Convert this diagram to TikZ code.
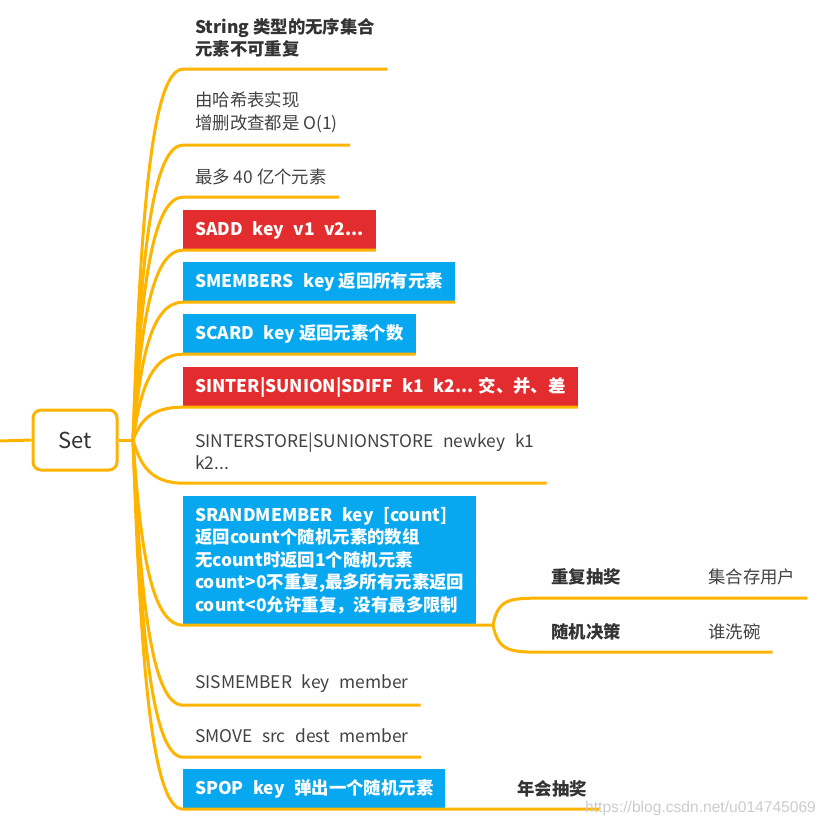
\documentclass[tikz,border=0pt]{standalone}
\usepackage{fontspec}
\setmainfont{Noto Sans CJK SC}
\newfontfamily\wmfont{Liberation Sans}
\definecolor{brorange}{RGB}{255,180,0}
\definecolor{bxred}{RGB}{226,44,46}
\definecolor{bxblue}{RGB}{8,168,240}
\definecolor{txtgray}{RGB}{66,66,66}
\definecolor{txtdark}{RGB}{51,51,51}
\newcommand\fsz{\fontsize{17.4}{22.5}\selectfont}
\newcommand\dsp{\hspace{0.55em}}
\begin{document}
\begin{tikzpicture}[x=1pt,y=-1pt,
  branch/.style={draw=brorange, line width=3pt},
  leaf/.style={anchor=west, inner xsep=12pt, inner ysep=0pt, align=left, text=txtgray, font=\fsz},
  leafbold/.style={leaf, text=txtdark, font=\fsz\bfseries},
  redbox/.style={leaf, fill=bxred, text=white, font=\fsz\bfseries},
  bluebox/.style={leaf, fill=bxblue, text=white, font=\fsz\bfseries}]
\useasboundingbox (0,0) rectangle (824,829);

% root
\node[draw=brorange, line width=3pt, rounded corners=8pt, fill=white,
      minimum width=84pt, minimum height=60pt, text=txtdark,
      font=\fontsize{22}{26}\selectfont] (set) at (75,440) {Set};
\coordinate (lft) at (0,441);
\coordinate (hub) at (133,440);

% branches
\node[leafbold, minimum height=62pt] (n1) at (183,38) {String 类型的无序集合\\元素不可重复};
\node[leaf, minimum height=65pt] (n2) at (183,112.5) {由哈希表实现\\增删改查都是 O(1)};
\node[leaf, minimum height=40pt] (n3) at (183,177) {最多 40 亿个元素};
\node[redbox, minimum height=40pt] (n4) at (183,230) {SADD\dsp key\dsp v1\dsp v2...};
\node[bluebox, minimum height=40pt] (n5) at (183,282) {SMEMBERS\dsp key 返回所有元素};
\node[bluebox, minimum height=40pt] (n6) at (183,334) {SCARD\dsp key 返回元素个数};
\node[redbox, minimum height=40pt] (n7) at (183,387) {SINTER|SUNION|SDIFF\dsp k1\dsp k2... 交、并、差};
\node[leaf, minimum height=63pt] (n8) at (183,451.5) {SINTERSTORE|SUNIONSTORE\dsp newkey\dsp k1\\k2...};
\node[bluebox, minimum height=129pt] (n9) at (183,560.5) {SRANDMEMBER\dsp key\dsp [count]\\返回count个随机元素的数组\\无count时返回1个随机元素\\count>0不重复,最多所有元素返回\\count<0允许重复，没有最多限制};
\node[leaf, minimum height=42pt] (n10) at (183,684) {SISMEMBER\dsp key\dsp member};
\node[leaf, minimum height=42pt] (n11) at (183,736) {SMOVE\dsp src\dsp dest\dsp member};
\node[bluebox, minimum height=40pt] (n12) at (183,789) {SPOP\dsp key\dsp 弹出一个随机元素};

% sub branches
\coordinate (sub) at (493,625);
\node[leafbold, minimum height=42pt] (r1) at (539,577) {重复抽奖};
\node[leaf, minimum height=42pt] (c1) at (696,577) {集合存用户};
\node[leafbold, minimum height=40pt] (r2) at (539,632) {随机决策};
\node[leaf, minimum height=40pt] (c2) at (696,632) {谁洗碗};
\node[leafbold, minimum height=40pt] (nh) at (505,789) {年会抽奖};

% connectors
\draw[branch] (lft) -- (set.west);
\draw[branch] (set.east) -- (hub);
\draw[branch] (hub) .. controls (140,236) and (150,69) .. (n1.south west) -- (n1.south east);
\draw[branch] (hub) .. controls (140,278) and (150,145) .. (n2.south west) -- (n2.south east);
\draw[branch] (hub) .. controls (140,306) and (150,197) .. (n3.south west) -- (n3.south east);
\draw[branch] (hub) .. controls (140,335.5) and (150,250) .. (n4.south west) -- (n4.south east);
\draw[branch] (hub) .. controls (140,364) and (150,302) .. (n5.south west) -- (n5.south east);
\draw[branch] (hub) .. controls (140,393) and (150,354) .. (n6.south west) -- (n6.south east);
\draw[branch] (hub) .. controls (140,422) and (150,407) .. (n7.south west) -- (n7.south east);
\draw[branch] (hub) .. controls (140,464) and (150,483) .. (n8.south west) -- (n8.south east);
\draw[branch] (hub) .. controls (140,542) and (150,625) .. (n9.south west) -- (n9.south east) -- (sub);
\draw[branch] (hub) .. controls (140,586) and (150,705) .. (n10.south west) -- (n10.south east);
\draw[branch] (hub) .. controls (140,614) and (150,757) .. (n11.south west) -- (n11.south east);
\draw[branch] (hub) .. controls (140,643) and (150,809) .. (n12.south west) -- (n12.south east) -- (nh.south east);
\draw[branch] (sub) .. controls (498,600) and (508,598) .. (r1.south west) -- (r1.south east) -- (c1.south east);
\draw[branch] (sub) .. controls (498,650) and (508,652) .. (r2.south west) -- (r2.south east) -- (c2.south east);

% watermark
\node[anchor=west, inner sep=0pt, text=gray!40, font=\wmfont\fontsize{15.6}{15.6}\selectfont] (wm) at (585,808) {https://blog.csdn.net/u014745069};
\end{tikzpicture}
\end{document}
